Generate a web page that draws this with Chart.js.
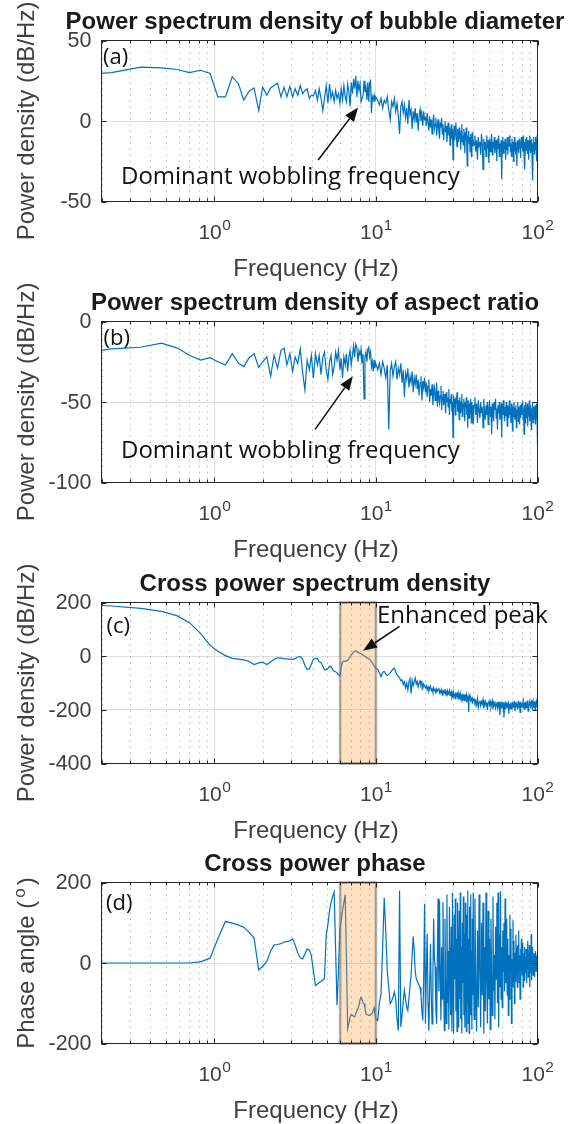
<!DOCTYPE html>
<html><head><meta charset="utf-8">
<script src="https://cdn.jsdelivr.net/npm/chart.js@4.4.1/dist/chart.umd.min.js"></script>
<style>
html,body{margin:0;padding:0;background:#fff;}
body{width:569px;height:1124px;position:relative;overflow:hidden;}
canvas{position:absolute;left:0;}
</style></head><body>
<canvas id="pA" width="569" height="281" style="top:0px"></canvas>
<canvas id="pB" width="569" height="281" style="top:281px"></canvas>
<canvas id="pC" width="569" height="281" style="top:562px"></canvas>
<canvas id="pD" width="569" height="282" style="top:842px"></canvas>
<script>
// ---------- data ----------
const freqHz = [
0.12,0.23,0.35,0.47,0.59,0.70,0.82,0.94,1.05,1.17,
1.29,1.41,1.52,1.64,1.76,1.88,1.99,2.11,2.23,2.34,
2.46,2.58,2.70,2.81,2.93,3.05,3.16,3.28,3.40,3.52,
3.63,3.75,3.87,3.98,4.10,4.22,4.34,4.45,4.57,4.69,
4.80,4.92,5.04,5.16,5.27,5.39,5.51,5.63,5.74,5.86,
5.98,6.09,6.21,6.33,6.45,6.56,6.68,6.80,6.91,7.03,
7.15,7.27,7.38,7.50,7.62,7.73,7.85,7.97,8.09,8.20,
8.32,8.44,8.55,8.67,8.79,8.91,9.02,9.14,9.26,9.38,
9.49,9.61,9.73,9.84,9.96,
10.25,10.5,10.75,11,11.25,11.5,11.75,12,12.25,12.5,
12.75,13,13.25,13.5,13.75,14,14.25,14.5,14.75,15,
15.25,15.5,15.75,16,16.25,16.5,16.75,17,17.25,17.5,
17.75,18,18.25,18.5,18.75,19,19.25,19.5,19.75,20,
20.25,20.5,20.75,21,21.25,21.5,21.75,22,22.25,22.5,
22.75,23,23.25,23.5,23.75,24,24.25,24.5,24.75,25,
25.25,25.5,25.75,26,26.25,26.5,26.75,27,27.25,27.5,
27.75,28,28.25,28.5,28.75,29,29.25,29.5,29.75,30,
30.25,30.5,30.75,31,31.25,31.5,31.75,32,32.25,32.5,
32.75,33,33.25,33.5,33.75,34,34.25,34.5,34.75,35,
35.25,35.5,35.75,36,36.25,36.5,36.75,37,37.25,37.5,
37.75,38,38.25,38.5,38.75,39,39.25,39.5,39.75,40,
40.5,41,41.5,42,42.5,43,43.5,44,44.5,45,
45.5,46,46.5,47,47.5,48,48.5,49,49.5,50,
50.5,51,51.5,52,52.5,53,53.5,54,54.5,55,
55.5,56,56.5,57,57.5,58,58.5,59,59.5,60,
60.5,61,61.5,62,62.5,63,63.5,64,64.5,65,
65.5,66,66.5,67,67.5,68,68.5,69,69.5,70,
70.5,71,71.5,72,72.5,73,73.5,74,74.5,75,
75.5,76,76.5,77,77.5,78,78.5,79,79.5,80,
80.5,81,81.5,82,82.5,83,83.5,84,84.5,85,
85.5,86,86.5,87,87.5,88,88.5,89,89.5,90,
90.5,91,91.5,92,92.5,93,93.5,94,94.5,95,
95.5,96,96.5,97,97.5,98,98.5,99,99.5,100];

const psdDiameter = [
28,30,33.5,33,32,30,31.5,29.5,15,15,
27.5,23,13,18.5,20.5,6.5,21,16,20.5,22,
23.5,15,21,15,21.5,15,20,16,22,17,
19,20,14,16,15.5,19,13,20,14,6.5,
14,22,11,23,14,18,12,19,14,17,
11,20,13,22,15,12,23,18,9,24,
17,26,20,28,15,25,19,23,12,14,
16,25,18,21,13,24,12,24,25,5,
15,13,16,12,15,
13,10,14,8,13,11,15,7,1,12,
9,14,6,11,3,-8,9,12,5,10,
2,8,-2,13,4,7,-5,6,1,8,
-1,5,-6,3,7,0,4,-3,6,1,
2,-3,5,-1,-6,3,-4,1,-8,0,
4,-5,-2,2,-9,-3,1,-6,-11,-1,
-4,2,-8,-2,-12,-5,0,-7,-3,-13,
-6,-1,-9,-4,-15,-7,-2,-11,-5,-24,
-8,-3,-12,-6,-1,-10,-16,-5,-9,-13,
-4,-11,-7,-18,-6,-2,-13,-9,-15,-5,
-10,-20,-7,-12,-4,-16,-28,-9,-13,-6,
-14,-10,-19,-8,-12,-22,-11,-7,-16,-12,
-15,-9,-19,-12,-24,-10,-16,-13,-21,-8,
-14,-30,-11,-18,-13,-22,-9,-17,-12,-26,
-11,-19,-14,-8,-21,-13,-17,-10,-20,-15,
-12,-25,-11,-17,-9,-22,-14,-19,-12,-36,
-15,-10,-20,-13,-17,-11,-24,-14,-18,-10,
-21,-13,-16,-9,-12,-19,-14,-22,-11,-17,
-13,-25,-15,-10,-19,-13,-21,-16,-28,-12,
-18,-14,-20,-11,-17,-13,-23,-15,-10,-17,
-12,-19,-9,-16,-21,-13,-30,-15,-11,-18,
-14,-10,-20,-16,-12,-24,-13,-18,-9,-15,
-20,-12,-17,-11,-22,-14,-37,-16,-10,-19,
-13,-21,-15,-10,-18,-12,-25,-14,-9,-17];

const psdAspect = [
-21,-17,-16,-13.5,-16.5,-21,-24,-22.5,-25,-27,
-20,-26,-28,-22.5,-20,-28.5,-25,-22,-34,-21,
-29,-18,-16.5,-27,-20,-31,-22,-26,-17,-32,
-42.5,-24,-30,-21,-35,-20,-27,-21,-33,-22,
-19,-30,-36,-25,-21,-33,-28,-19,-24,-18,
-30,-23,-35,-22,-27,-20,-31,-22,-18,-27,
-21,-15,-22,-14,-16,-25,-18,-21,-17,-26,
-20,-48,-22,-19,-25,-17,-16,-22,-19,-28,
-25,-31,-24,-29,-26,
-30,-26,-33,-25,-29,-35,-27,-67,-31,-26,
-34,-28,-25,-36,-29,-33,-26,-38,-30,-47,
-32,-36,-29,-41,-34,-38,-31,-44,-35,-39,
-33,-42,-36,-46,-38,-34,-49,-37,-41,-35,
-44,-38,-47,-40,-36,-50,-42,-46,-39,-52,
-44,-41,-49,-45,-38,-53,-43,-48,-51,-46,
-40,-55,-47,-43,-52,-45,-49,-57,-44,-50,
-47,-53,-42,-58,-48,-51,-45,-56,-50,-72,
-46,-53,-48,-58,-47,-51,-44,-56,-49,-53,
-61,-47,-52,-57,-50,-45,-59,-51,-54,-48,
-56,-62,-50,-53,-47,-58,-52,-66,-49,-55,
-60,-51,-57,-48,-54,-63,-50,-56,-52,-64,
-52,-47,-58,-51,-63,-49,-55,-60,-50,-57,
-53,-66,-48,-56,-61,-52,-58,-50,-64,-54,
-49,-59,-53,-70,-51,-57,-62,-50,-55,-48,
-60,-54,-67,-52,-57,-50,-61,-55,-53,-72,
-51,-58,-49,-56,-62,-53,-59,-50,-57,-65,
-52,-55,-60,-49,-58,-54,-63,-51,-56,-68,
-53,-59,-50,-57,-61,-54,-52,-66,-55,-58,
-50,-62,-53,-57,-64,-52,-60,-55,-51,-58,
-56,-49,-61,-54,-70,-52,-58,-63,-50,-57,
-54,-60,-51,-65,-56,-53,-59,-49,-62,-55,
-58,-52,-67,-54,-60,-50,-57,-63,-53,-59,
-55,-61,-52,-58,-64,-54,-57,-51,-62,-76];

const cpsdPower = [
195,187,178,167,150,125,85,40,18,2,
-8,-11,-14,-20,-31,-25,-22,-31,-22,-12,
-6,-7,-9,-10,-11,-12,-9,-4,-1,-12,
-35,-50,-47,-30,-12,-8,-9,-20,-24,-38,
-51,-50,-45,-38,-39,-50,-56,-58,-62,-70,
-74,-42,-22,-18,-20,-17,-15,-10,-2,5,
10,15,19,20,18,14,12,11,10,7,
3,1,0,-3,-6,-8,-9,-12,-16,-20,
-24,-30,-36,-40,-44,
-50,-62,-76,-60,-57,-66,-72,-68,-62,-55,
-48,-45,-58,-70,-76,-80,-92,-88,-105,-95,
-118,-100,-126,-96,-84,-140,-90,-110,-96,-81,
-104,-94,-115,-100,-92,-108,-98,-120,-104,-112,
-118,-110,-125,-114,-130,-120,-112,-128,-122,-135,
-118,-128,-124,-140,-122,-130,-126,-118,-136,-128,
-132,-124,-145,-130,-128,-138,-122,-140,-134,-150,
-130,-142,-136,-128,-146,-138,-132,-150,-140,-155,
-136,-146,-140,-158,-134,-148,-142,-150,-138,-160,
-144,-152,-140,-162,-148,-155,-146,-158,-150,-166,
-143,-168,-150,-158,-146,-172,-152,-160,-155,-208,
-152,-162,-150,-170,-158,-165,-155,-175,-160,-165,
-160,-175,-168,-182,-158,-190,-172,-165,-185,-170,
-178,-162,-195,-176,-168,-186,-172,-200,-174,-165,
-182,-170,-190,-178,-166,-198,-175,-185,-168,-192,
-180,-172,-192,-176,-186,-170,-220,-182,-175,-195,
-178,-188,-172,-228,-185,-176,-198,-180,-170,-192,
-182,-175,-215,-186,-178,-195,-172,-184,-200,-176,
-168,-190,-180,-174,-205,-182,-170,-188,-176,-196,
-180,-166,-192,-178,-172,-210,-184,-170,-186,-175,
-190,-178,-168,-196,-182,-174,-200,-185,-170,-192,
-176,-188,-165,-182,-205,-178,-190,-172,-184,-168,
-195,-180,-172,-188,-176,-200,-184,-170,-192,-178,
-185,-168,-198,-176,-182,-170,-190,-164,-180,-175];

const cpsdPhase = [
0,0,0,0,0,0,3,12,60,103,
99,94,89,76,62,-17,-8,4,30,45,
46,48,52,53,55,60,45,25,13,10,
22,35,32,19,-20,-56,-52,-49,-46,-42,
-39,70,95,130,150,165,176,30,-105,-20,
85,105,130,150,170,20,-163,-150,-135,-128,
-130,-133,-134,-126,-118,-114,-105,-92,-85,-90,
-99,-101,-112,-126,-128,-129,-130,-130,-128,-126,
-124,-118,-111,-125,-138,
-143,-100,-76,40,162,80,-20,-60,-101,-95,
-85,-72,-90,-140,-168,180,-159,-130,-95,-68,
-90,-110,-118,-90,-56,-30,20,66,30,-20,
-39,-45,-50,-55,-60,-80,-120,-143,-40,147,
-151,-20,72,-100,-168,-60,48,-80,-151,-40,
110,10,-10,-120,-151,20,160,-70,155,-30,
-143,40,-90,151,-60,-168,110,-40,-150,170,
-100,30,-165,140,-20,-130,90,-170,175,-60,
-175,120,-40,160,-120,60,-170,150,-10,-160,
130,-90,175,-140,40,-175,100,-50,165,-130,
70,-160,150,-20,-170,120,-100,180,-150,60,
-175,140,-60,170,-130,30,-165,110,-80,175,
-140,160,-60,-170,80,-110,170,-30,-160,100,
-80,150,-175,40,-120,175,-50,-150,130,-90,
60,-165,110,-20,-130,165,-70,20,-140,90,
-40,150,-100,175,-160,70,-60,178,-90,40,
-110,80,-20,100,-70,160,-50,110,-30,-80,
60,-130,20,-90,120,-20,85,-150,10,-60,
106,-40,55,-101,25,-45,70,-30,40,-60,
45,-20,81,-48,20,-90,35,-40,60,10,
-30,50,-60,25,-10,40,-45,15,-25,35,
-50,20,-15,55,-35,10,-20,45,-60,5,
30,-25,72,-43,15,-10,40,-30,20,-5,
25,-35,10,-15,30,-20,15,-10,20,5];

const xTickValues = [1, 10, 100];
const xTickBase = ['10', '10', '10'];
const xTickExp = ['0', '1', '2'];
const xMinorGrid = [0.2,0.3,0.4,0.5,0.6,0.7,0.8,0.9,2,3,4,5,6,7,8,9,20,30,40,50,60,70,80,90];
const yTicksA = [-50, 0, 50];
const yTicksB = [-100, -50, 0];
const yTicksC = [-400, -200, 0, 200];
const yTicksD = [-200, 0, 200];
const bandHz = [6, 10];

// ---------- styling ----------
const AX = '#262626';
const TXT = '#404040';
const SANS = '"Liberation Sans", Arial, Helvetica, sans-serif';
const NOTE = '"Open Sans", "Noto Sans", sans-serif';

function drawArrow(ctx, x0, y0, x1, y1) {
  const ang = Math.atan2(y1 - y0, x1 - x0);
  const hl = 14, hw = 5.5;
  const bx = x1 - hl * Math.cos(ang), by = y1 - hl * Math.sin(ang);
  ctx.strokeStyle = '#111'; ctx.lineWidth = 1.6; ctx.setLineDash([]);
  ctx.beginPath(); ctx.moveTo(x0, y0); ctx.lineTo(bx, by); ctx.stroke();
  ctx.fillStyle = '#111';
  ctx.beginPath();
  ctx.moveTo(x1, y1);
  ctx.lineTo(bx + hw * Math.sin(ang), by - hw * Math.cos(ang));
  ctx.lineTo(bx - hw * Math.sin(ang), by + hw * Math.cos(ang));
  ctx.closePath(); ctx.fill();
}

const matlabPlugin = {
  id: 'matlab',
  beforeDatasetsDraw(chart, args, o) {
    const { ctx, chartArea: a, scales: { x } } = chart;
    ctx.save();
    ctx.strokeStyle = '#bdbdbd'; ctx.lineWidth = 1; ctx.setLineDash([1.5, 4.5]);
    for (const v of xMinorGrid) {
      const px = Math.round(x.getPixelForValue(v)) + 0.5;
      ctx.beginPath(); ctx.moveTo(px, a.top); ctx.lineTo(px, a.bottom); ctx.stroke();
    }
    ctx.restore();
  },
  afterDatasetsDraw(chart, args, o) {
    if (!o.band) return;
    const { ctx, chartArea: a, scales: { x } } = chart;
    const x0 = x.getPixelForValue(o.band[0]), x1 = x.getPixelForValue(o.band[1]);
    ctx.save();
    ctx.fillStyle = 'rgba(255,153,51,0.3)';
    ctx.fillRect(x0, a.top, x1 - x0, a.bottom - a.top);
    ctx.strokeStyle = 'rgba(110,110,110,0.55)'; ctx.lineWidth = 2.6;
    ctx.strokeRect(x0, a.top, x1 - x0, a.bottom - a.top);
    ctx.restore();
  },
  afterDraw(chart, args, o) {
    const { ctx, chartArea: a, scales: { x, y } } = chart;
    ctx.save();
    ctx.strokeStyle = AX; ctx.lineWidth = 1; ctx.setLineDash([]);
    ctx.strokeRect(a.left, a.top, a.right - a.left, a.bottom - a.top);
    ctx.beginPath();
    for (const v of xMinorGrid) {
      const px = Math.round(x.getPixelForValue(v)) + 0.5;
      ctx.moveTo(px, a.bottom); ctx.lineTo(px, a.bottom - 3);
      ctx.moveTo(px, a.top); ctx.lineTo(px, a.top + 3);
    }
    for (const v of xTickValues) {
      const px = Math.round(x.getPixelForValue(v)) + 0.5;
      ctx.moveTo(px, a.bottom); ctx.lineTo(px, a.bottom - 5);
      ctx.moveTo(px, a.top); ctx.lineTo(px, a.top + 5);
    }
    for (const v of o.yTicks) {
      const py = Math.round(y.getPixelForValue(v)) + 0.5;
      ctx.moveTo(a.left, py); ctx.lineTo(a.left + 5, py);
      ctx.moveTo(a.right, py); ctx.lineTo(a.right - 5, py);
    }
    ctx.stroke();

    ctx.fillStyle = TXT;
    ctx.font = '21.5px ' + SANS;
    ctx.textAlign = 'right'; ctx.textBaseline = 'middle';
    for (const v of o.yTicks) ctx.fillText(String(v), a.left - 10, y.getPixelForValue(v) + 1);

    ctx.textBaseline = 'alphabetic'; ctx.textAlign = 'left';
    xTickValues.forEach((v, i) => {
      const px = x.getPixelForValue(v);
      ctx.font = '21px ' + SANS; const wb = ctx.measureText(xTickBase[i]).width;
      ctx.font = '15.5px ' + SANS; const we = ctx.measureText(xTickExp[i]).width;
      const left = px - (wb + we) / 2;
      ctx.font = '21px ' + SANS; ctx.fillText(xTickBase[i], left, a.bottom + 37);
      ctx.font = '15.5px ' + SANS; ctx.fillText(xTickExp[i], left + wb + 0.5, a.bottom + 28.5);
    });

    ctx.font = '24px ' + SANS; ctx.textAlign = 'center';
    ctx.fillText('Frequency (Hz)', 316, a.bottom + 74);

    ctx.save();
    ctx.translate(33.5, (a.top + a.bottom) / 2);
    ctx.rotate(-Math.PI / 2);
    if (Array.isArray(o.ylabel)) {
      ctx.font = '24px ' + SANS; const w1 = ctx.measureText(o.ylabel[0]).width;
      ctx.font = '17px ' + SANS; const w2 = ctx.measureText(o.ylabel[1]).width + 6;
      ctx.font = '24px ' + SANS; const w3 = ctx.measureText(o.ylabel[2]).width;
      let sx = -(w1 + w2 + w3) / 2;
      ctx.textAlign = 'left';
      ctx.fillText(o.ylabel[0], sx, 0);
      ctx.font = '17px ' + SANS; ctx.fillText(o.ylabel[1], sx + w1 + 3, -9);
      ctx.font = '24px ' + SANS; ctx.fillText(o.ylabel[2], sx + w1 + w2, 0);
    } else {
      ctx.font = '24px ' + SANS; ctx.textAlign = 'center';
      ctx.fillText(o.ylabel, 0, 0);
    }
    ctx.restore();

    ctx.fillStyle = '#1a1a1a';
    ctx.font = 'bold 24px ' + SANS; ctx.textAlign = 'center';
    ctx.fillText(o.title, 315, a.top - 11.5);

    ctx.fillStyle = '#111';
    ctx.font = '22px ' + NOTE; ctx.textAlign = 'left';
    ctx.fillText(o.tag, a.left + o.tagPos[0], a.top + o.tagPos[1]);

    if (o.note) {
      const n = o.note;
      ctx.font = '24px ' + NOTE; ctx.textAlign = 'left'; ctx.fillStyle = '#111';
      ctx.fillText(n.text, x.getPixelForValue(n.at[0]), y.getPixelForValue(n.at[1]));
      drawArrow(ctx, x.getPixelForValue(n.from[0]), y.getPixelForValue(n.from[1]),
                     x.getPixelForValue(n.to[0]), y.getPixelForValue(n.to[1]));
    }
    ctx.restore();
  }
};

const panels = [
  { canvas: 'pA', values: psdDiameter, ymin: -50, ymax: 50, yTicks: yTicksA,
    title: 'Power spectrum density of bubble diameter', ylabel: 'Power density (dB/Hz)',
    tag: '(a)', tagPos: [1.5, 23],
    note: { text: 'Dominant wobbling frequency', at: [0.264, -39], from: [4.39, -24.2], to: [7.75, 8.4] } },
  { canvas: 'pB', values: psdAspect, ymin: -100, ymax: 0, yTicks: yTicksB,
    title: 'Power spectrum density of aspect ratio', ylabel: 'Power density (dB/Hz)',
    tag: '(b)', tagPos: [2, 23],
    note: { text: 'Dominant wobbling frequency', at: [0.264, -85], from: [4.2, -67], to: [7.2, -34] } },
  { canvas: 'pC', values: cpsdPower, ymin: -400, ymax: 200, yTicks: yTicksC,
    title: 'Cross power spectrum density', ylabel: 'Power density (dB/Hz)',
    tag: '(c)', tagPos: [5, 30], band: bandHz,
    note: { text: 'Enhanced peak', at: [10.14, 124], from: [14, 111], to: [8.32, 20] } },
  { canvas: 'pD', values: cpsdPhase, ymin: -200, ymax: 200, yTicks: yTicksD,
    title: 'Cross power phase', ylabel: ['Phase angle (', 'o', ')'],
    tag: '(d)', tagPos: [4.5, 27], band: bandHz, note: null }
];

panels.forEach(p => {
  const cv = document.getElementById(p.canvas);
  new Chart(cv, {
    type: 'line',
    data: {
      datasets: [{
        data: freqHz.map((f, i) => ({ x: f, y: p.values[i] })),
        borderColor: '#0072BD', borderWidth: 1.2, pointRadius: 0, tension: 0, fill: false
      }]
    },
    options: {
      responsive: false, animation: false, devicePixelRatio: 1,
      layout: { autoPadding: false, padding: { left: 101.5, right: 31.5, top: 40.5, bottom: cv.height - 201.5 } },
      plugins: {
        legend: { display: false }, tooltip: { enabled: false }, title: { display: false },
        matlab: { yTicks: p.yTicks, title: p.title, ylabel: p.ylabel, tag: p.tag, tagPos: p.tagPos, band: p.band, note: p.note }
      },
      scales: {
        x: {
          type: 'logarithmic', min: 0.2, max: 100,
          afterBuildTicks: s => { s.ticks = xTickValues.map(v => ({ value: v })); },
          ticks: { display: false },
          grid: { color: '#dedede', lineWidth: 1, drawTicks: false },
          border: { display: false }
        },
        y: {
          type: 'linear', min: p.ymin, max: p.ymax,
          afterBuildTicks: s => { s.ticks = p.yTicks.map(v => ({ value: v })); },
          ticks: { display: false },
          grid: { color: '#dedede', lineWidth: 1, drawTicks: false },
          border: { display: false }
        }
      }
    },
    plugins: [matlabPlugin]
  });
});
</script>
</body></html>
